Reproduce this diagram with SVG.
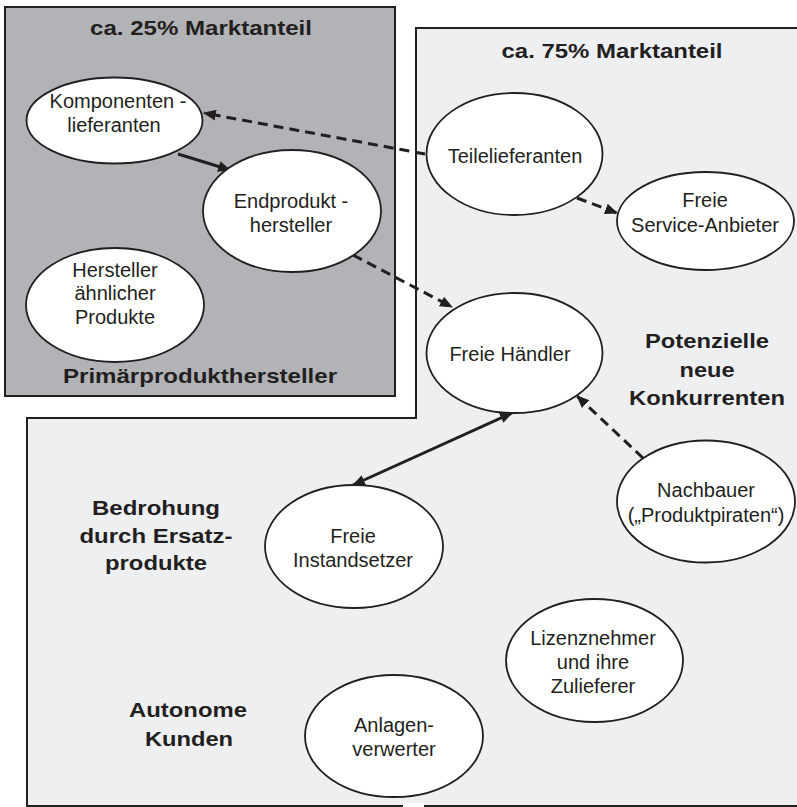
<svg xmlns="http://www.w3.org/2000/svg" width="797" height="807" viewBox="0 0 797 807">
<style>
  .zone { stroke: #231f20; stroke-width: 2; }
  .node ellipse { fill: #ffffff; stroke: #231f20; stroke-width: 1.8; }
  .lbl { font-family: "Liberation Sans", Arial, sans-serif; font-size: 20px; fill: #231f20; text-anchor: middle; }
  .hdr { font-family: "Liberation Sans", Arial, sans-serif; font-size: 21px; font-weight: bold; fill: #231f20; text-anchor: middle; }
  .solid { fill: none; stroke: #231f20; stroke-width: 3; }
  .dash { fill: none; stroke: #231f20; stroke-width: 3; stroke-dasharray: 10 6; }
</style>
<defs>
  <marker id="ah" viewBox="0 0 12 10" refX="11" refY="5" markerWidth="13" markerHeight="11" markerUnits="userSpaceOnUse" orient="auto-start-reverse">
    <path d="M0,0 L12,5 L0,10 z" fill="#231f20"/>
  </marker>
</defs>

<g id="zone-75">
  <polygon points="416,28 797,28 797,806 27,806 27,418 416,418" fill="#eeeff1"/>
  <polyline class="zone" fill="none" points="797,28 416,28 416,418 27,418 27,806 403,806"/>
  <line class="zone" x1="424" y1="806" x2="797" y2="806"/>
  <rect x="403" y="803" width="21" height="4" fill="#ffffff"/>
</g>
<g id="zone-25">
  <rect class="zone" x="5" y="7" width="390" height="389" fill="#b2b3b7"/>
</g>

<g id="zone-labels">
  <text class="hdr" x="201" y="35" textLength="222" lengthAdjust="spacingAndGlyphs">ca. 25% Marktanteil</text>
  <text class="hdr" x="200" y="383" textLength="274" lengthAdjust="spacingAndGlyphs">Primärprodukthersteller</text>
  <text class="hdr" x="612" y="58" textLength="221" lengthAdjust="spacingAndGlyphs">ca. 75% Marktanteil</text>
  <text class="hdr" x="707" y="348" textLength="124" lengthAdjust="spacingAndGlyphs">Potenzielle</text>
  <text class="hdr" x="707" y="377" textLength="55" lengthAdjust="spacingAndGlyphs">neue</text>
  <text class="hdr" x="707" y="405" textLength="156" lengthAdjust="spacingAndGlyphs">Konkurrenten</text>
  <text class="hdr" x="156" y="515" textLength="128" lengthAdjust="spacingAndGlyphs">Bedrohung</text>
  <text class="hdr" x="156" y="543" textLength="153" lengthAdjust="spacingAndGlyphs">durch Ersatz-</text>
  <text class="hdr" x="156" y="570" textLength="102" lengthAdjust="spacingAndGlyphs">produkte</text>
  <text class="hdr" x="188" y="717" textLength="118" lengthAdjust="spacingAndGlyphs">Autonome</text>
  <text class="hdr" x="189" y="746" textLength="88" lengthAdjust="spacingAndGlyphs">Kunden</text>
</g>

<g id="connectors">
  <line class="solid" x1="178" y1="154" x2="230" y2="170" marker-end="url(#ah)"/>
  <line class="dash" x1="425" y1="154" x2="204" y2="113" marker-end="url(#ah)"/>
  <line class="dash" x1="353" y1="255" x2="452" y2="307" marker-end="url(#ah)"/>
  <line class="dash" x1="577" y1="198" x2="617" y2="213" marker-end="url(#ah)"/>
  <line class="dash" x1="643" y1="458" x2="577" y2="396" marker-end="url(#ah)"/>
  <line class="solid" x1="512" y1="413" x2="353" y2="485" marker-start="url(#ah)" marker-end="url(#ah)"/>
</g>

<g id="komponentenlieferanten" class="node">
  <ellipse cx="114.5" cy="120.5" rx="88" ry="43"/>
  <text class="lbl" x="118" y="108">Komponenten -</text>
  <text class="lbl" x="114" y="132">lieferanten</text>
</g>
<g id="endprodukthersteller" class="node">
  <ellipse cx="292" cy="211" rx="89" ry="61"/>
  <text class="lbl" x="291" y="208">Endprodukt -</text>
  <text class="lbl" x="291" y="232">hersteller</text>
</g>
<g id="hersteller-aehnlicher-produkte" class="node">
  <ellipse cx="115" cy="305" rx="89" ry="57"/>
  <text class="lbl" x="115" y="277">Hersteller</text>
  <text class="lbl" x="115" y="300">ähnlicher</text>
  <text class="lbl" x="115" y="324">Produkte</text>
</g>
<g id="teilelieferanten" class="node">
  <ellipse cx="514.5" cy="154" rx="88" ry="61"/>
  <text class="lbl" x="515" y="163">Teilelieferanten</text>
</g>
<g id="freie-service-anbieter" class="node">
  <ellipse cx="705.5" cy="221" rx="88.5" ry="49"/>
  <text class="lbl" x="705" y="207">Freie</text>
  <text class="lbl" x="705" y="232">Service-Anbieter</text>
</g>
<g id="freie-haendler" class="node">
  <ellipse cx="514.5" cy="353" rx="88" ry="60"/>
  <text class="lbl" x="510" y="361">Freie Händler</text>
</g>
<g id="nachbauer" class="node">
  <ellipse cx="706" cy="501.5" rx="89" ry="61"/>
  <text class="lbl" x="706" y="497">Nachbauer</text>
  <text class="lbl" x="706" y="522">(„Produktpiraten“)</text>
</g>
<g id="freie-instandsetzer" class="node">
  <ellipse cx="354" cy="546.5" rx="89" ry="61.5"/>
  <text class="lbl" x="353" y="543">Freie</text>
  <text class="lbl" x="353" y="567">Instandsetzer</text>
</g>
<g id="lizenznehmer" class="node">
  <ellipse cx="594.5" cy="660.5" rx="88.5" ry="61.5"/>
  <text class="lbl" x="593" y="645">Lizenznehmer</text>
  <text class="lbl" x="593" y="669">und ihre</text>
  <text class="lbl" x="593" y="693">Zulieferer</text>
</g>
<g id="anlagenverwerter" class="node">
  <ellipse cx="394" cy="736" rx="89" ry="61"/>
  <text class="lbl" x="394" y="732">Anlagen-</text>
  <text class="lbl" x="394" y="756">verwerter</text>
</g>
</svg>
